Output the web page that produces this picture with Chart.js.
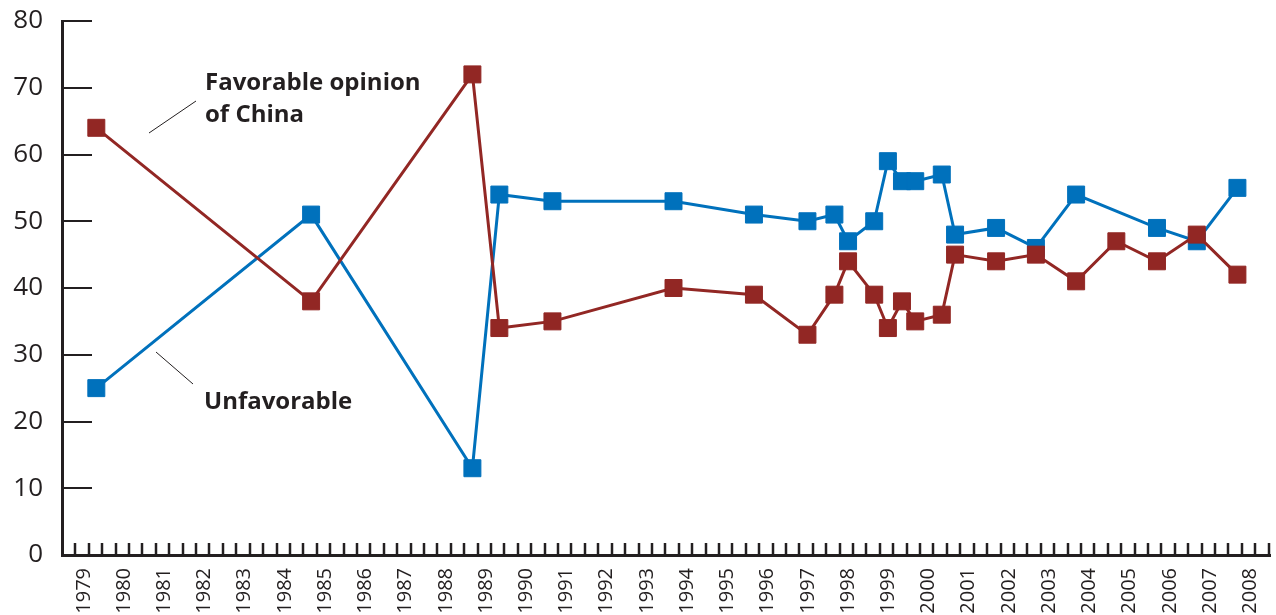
<!DOCTYPE html>
<html>
<head>
<meta charset="utf-8">
<script src="https://cdn.jsdelivr.net/npm/chart.js@4.4.0/dist/chart.umd.min.js"></script>
<style>
  html, body { margin: 0; padding: 0; background: #fff; }
  #wrap { width: 1276px; height: 615px; }
</style>
</head>
<body>
<div id="wrap"><canvas id="chinaChart" width="1276" height="615"></canvas></div>
<script>
// Year labels on the x axis
var YEAR_LABELS = ['1979', '1980', '1981', '1982', '1983', '1984', '1985', '1986', '1987', '1988',
    '1989', '1990', '1991', '1992', '1993', '1994', '1995', '1996', '1997', '1998',
    '1999', '2000', '2001', '2002', '2003', '2004', '2005', '2006', '2007', '2008'];
// Survey dates (decimal years)
var SURVEY_YEARS = [1979.52, 1984.86, 1988.87, 1989.54, 1990.86, 1993.87, 1995.87, 1997.20,
    1997.87, 1998.21, 1998.86, 1999.20, 1999.55, 1999.88, 2000.54, 2000.87, 2001.89,
    2002.88, 2003.88, 2004.88, 2005.89, 2006.88, 2007.89];
// Favorable opinion of China (%)
var FAVORABLE = [64, 38, 72, 34, 35, 40, 39, 33, 39, 44, 39, 34, 38, 35, 36, 45, 44, 45, 41, 47, 44, 48, 42];
// Unfavorable (%) - no reading for the 2004 survey
var UNFAVORABLE = [25, 51, 13, 54, 53, 53, 51, 50, 51, 47, 50, 59, 56, 56, 57, 48, 49, 46, 54, null, 49, 47, 55];
// Y axis ticks
var Y_TICKS = [0, 10, 20, 30, 40, 50, 60, 70, 80];

var INK = '#231f20';
var RED = '#922724';
var BLUE = '#0071bc';
var LABEL_OFFSET = 0.21; // year labels sit a little after the year start

function points(values) {
    return SURVEY_YEARS.map(function (x, i) { return { x: x, y: values[i] }; });
}

// tick marks drawn inside the plot area, like the original
var innerTicks = {
    id: 'innerTicks',
    afterDatasetsDraw: function (chart) {
        var ctx = chart.ctx, area = chart.chartArea;
        var xs = chart.scales.x, ys = chart.scales.y;
        ctx.save();
        ctx.strokeStyle = INK;
        // x: one mark every 4 months
        ctx.lineWidth = 2.5;
        for (var v = xs.min + 1 / 3; v < xs.max; v += 1 / 3) {
            var px = Math.round(xs.getPixelForValue(v));
            ctx.beginPath();
            ctx.moveTo(px, area.bottom);
            ctx.lineTo(px, area.bottom - 12);
            ctx.stroke();
        }
        // y: marks at each label
        ctx.lineWidth = 2;
        Y_TICKS.forEach(function (t) {
            if (t === 0) return;
            var py = Math.round(ys.getPixelForValue(t));
            ctx.beginPath();
            ctx.moveTo(area.left, py);
            ctx.lineTo(area.left + 30, py);
            ctx.stroke();
        });
        ctx.restore();
    }
};

// series labels with their leader lines
var seriesNotes = {
    id: 'seriesNotes',
    afterDraw: function (chart) {
        var ctx = chart.ctx;
        ctx.save();
        ctx.fillStyle = INK;
        ctx.font = 'bold 24px "Open Sans"';
        ctx.textAlign = 'left';
        ctx.textBaseline = 'alphabetic';
        ctx.fillText('Favorable opinion', 205, 90);
        ctx.fillText('of China', 205, 122);
        ctx.fillText('Unfavorable', 204, 409);
        ctx.strokeStyle = INK;
        ctx.lineWidth = 1;
        ctx.beginPath();
        ctx.moveTo(149, 133);
        ctx.lineTo(196, 101);
        ctx.moveTo(156, 352);
        ctx.lineTo(193, 384);
        ctx.stroke();
        ctx.restore();
    }
};

var chinaChart = new Chart(document.getElementById('chinaChart'), {
    type: 'line',
    data: {
        datasets: [{
            label: 'Favorable opinion of China',
            data: points(FAVORABLE),
            borderColor: RED,
            backgroundColor: RED,
            borderWidth: 3,
            pointStyle: 'rect',
            pointRadius: 12,
            pointBorderWidth: 1,
            pointBorderColor: RED,
            pointBackgroundColor: RED,
            tension: 0
        }, {
            label: 'Unfavorable',
            data: points(UNFAVORABLE),
            borderColor: BLUE,
            backgroundColor: BLUE,
            borderWidth: 3,
            pointStyle: 'rect',
            pointRadius: 12,
            pointBorderWidth: 1,
            pointBorderColor: BLUE,
            pointBackgroundColor: BLUE,
            spanGaps: true,
            tension: 0
        }]
    },
    options: {
        responsive: false,
        animation: false,
        layout: { autoPadding: false, padding: { top: 21, right: 6, left: 0, bottom: 0 } },
        plugins: {
            legend: { display: false },
            tooltip: { enabled: false }
        },
        scales: {
            x: {
                type: 'linear',
                min: 1978 + 2 / 3,
                max: 2008.7,
                grid: { display: false, drawTicks: false },
                border: { display: true, color: INK, width: 3 },
                afterBuildTicks: function (scale) {
                    scale.ticks = YEAR_LABELS.map(function (y) { return { value: +y + LABEL_OFFSET }; });
                },
                afterFit: function (scale) {
                    scale.height = 60;
                    scale.paddingLeft = 0;
                    scale.paddingRight = 0;
                },
                ticks: {
                    autoSkip: false,
                    maxRotation: 90,
                    minRotation: 90,
                    padding: 13,
                    color: INK,
                    font: { family: 'Open Sans', size: 20 },
                    callback: function (value, index) { return YEAR_LABELS[index]; }
                }
            },
            y: {
                min: 0,
                max: 80,
                grid: { display: false, drawTicks: false },
                border: { display: true, color: INK, width: 3 },
                afterBuildTicks: function (scale) {
                    scale.ticks = Y_TICKS.map(function (t) { return { value: t }; });
                },
                afterFit: function (scale) {
                    scale.width = 62;
                    scale.paddingTop = 0;
                    scale.paddingBottom = 0;
                },
                ticks: {
                    padding: 19,
                    color: INK,
                    font: { family: 'Open Sans', size: 26 }
                }
            }
        }
    },
    plugins: [innerTicks, seriesNotes]
});
</script>
</body>
</html>
